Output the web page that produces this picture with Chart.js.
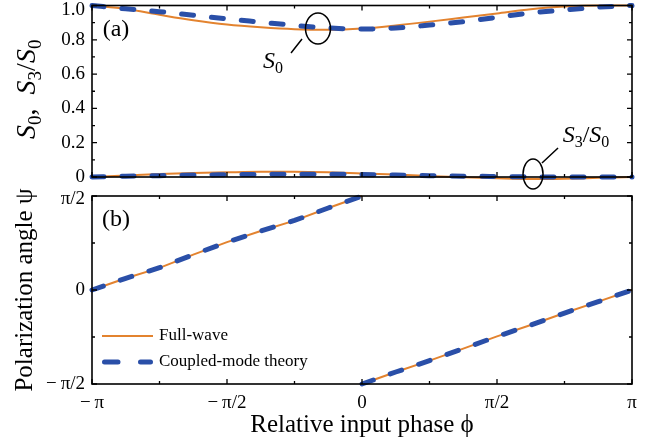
<!DOCTYPE html>
<html><head><meta charset="utf-8">
<script src="https://cdn.jsdelivr.net/npm/chart.js@4.4.1/dist/chart.umd.min.js"></script>
<style>
html,body{margin:0;padding:0;background:#fff;}
#wrap{position:relative;width:662px;height:445px;overflow:hidden;background:#fff;}
canvas{position:absolute;left:0;}
#top{top:0;} #bot{top:185px;}
</style></head><body>
<div id="wrap"><canvas id="top" width="662" height="190"></canvas><canvas id="bot" width="662" height="260"></canvas></div>
<script>
// ---------- data ----------
const phase = [-3.1416,-2.7489,-2.3562,-1.9635,-1.5708,-1.1781,-0.7854,-0.3927,0,0.3927,0.7854,1.1781,1.5708,1.9635,2.3562,2.7489,3.1416];
const s0Full = [1.000,0.980,0.946,0.914,0.889,0.873,0.862,0.859,0.866,0.884,0.906,0.930,0.954,0.978,0.994,1.000,1.000];
const s0Cmt  = [1.000,0.981,0.964,0.943,0.922,0.903,0.884,0.869,0.863,0.869,0.886,0.906,0.931,0.957,0.974,0.990,1.000];
const s3Full = [0.000,0.009,0.017,0.023,0.027,0.030,0.030,0.027,0.021,0.014,0.006,-0.002,-0.008,-0.012,-0.010,-0.005,0.000];
const s3Cmt  = [0.000,0.005,0.008,0.011,0.013,0.015,0.016,0.016,0.014,0.011,0.008,0.005,0.003,0.001,0.000,0.000,0.000];

const psiPhase = [-3.1416,-2.7489,-2.3562,-1.9635,-1.5708,-1.1781,-0.7854,-0.3927,0,0,0,0.3927,0.7854,1.1781,1.5708,1.9635,2.3562,2.7489,3.1416];
const psiFull = [0.000,0.196,0.370,0.590,0.800,0.985,1.160,1.370,1.571,null,-1.571,-1.370,-1.180,-0.980,-0.775,-0.585,-0.385,-0.195,0.000];
const psiCmt  = [0.000,0.196,0.372,0.590,0.800,0.985,1.162,1.370,1.571,null,-1.571,-1.370,-1.180,-0.980,-0.777,-0.585,-0.385,-0.195,0.000];

const xTickValues = [-3.1416,-1.5708,0,1.5708,3.1416];
const xTickLabels = ['\u2212\u2009\u03C0','\u2212\u2009\u03C0/2','0','\u03C0/2','\u03C0'];
const xFrameTicks = [-3.1416,-2.3562,-1.5708,-0.7854,0,0.7854,1.5708,2.3562,3.1416];
const yTopTickValues = [0,0.2,0.4,0.6,0.8,1.0];
const yTopTickLabels = ['0','0.2','0.4','0.6','0.8',['','1.0']];
const yTopFrameTicks = [0,0.1,0.2,0.3,0.4,0.5,0.6,0.7,0.8,0.9,1.0];
const yBotTickValues = [-1.5708,0,1.5708];
const yBotTickLabels = ['\u2212\u2009\u03C0/2','0',['','\u03C0/2']];
const yBotFrameTicks = [-1.5708,-0.7854,0,0.7854,1.5708];

const seriesNames = ['Full-wave','Coupled-mode theory'];
// annotation anchors (data units)
const ellS0 = [-0.512, 0.866], lineS0 = [[-0.698,0.805],[-0.826,0.723]], labS0 = [-1.036, 0.636];
const ellS3 = [1.990, 0.0175], lineS3 = [[2.094,0.082],[2.281,0.169]], labS3 = [2.606, 0.204];

// ---------- style ----------
const FONT = "'Liberation Serif','DejaVu Serif',serif";
const ORANGE = '#e3832f';
const BLUE = '#2a4fa8';
Chart.defaults.font.family = FONT;
Chart.defaults.color = '#000';

const pts = (xs, ys) => xs.map((x, i) => ({x, y: ys[i]}));
const fullStyle = {borderColor: ORANGE, borderWidth: 2, pointRadius: 0, fill: false, clip: false, order: 2};
const cmtStyle = {borderColor: BLUE, borderWidth: 5, borderDash: [12, 18], borderCapStyle: 'round', pointRadius: 0, fill: false, clip: false, order: 1};

function fixAxis(w) {
  return s => { if (w != null) s.width = w; s.paddingTop = 0; s.paddingBottom = 0; s.paddingLeft = 0; s.paddingRight = 0; };
}
function fixX(h) {
  return s => { if (h != null) s.height = h; s.paddingLeft = 0; s.paddingRight = 0; s.paddingTop = 0; s.paddingBottom = 0; };
}

function mathRuns(ctx, runs, size) {
  return runs.map(([t, k]) => {
    const f = k === 's' ? `${Math.round(size * 0.68)}px ${FONT}` : (k === 'i' ? `italic ${size}px ${FONT}` : `${size}px ${FONT}`);
    ctx.font = f;
    return {t, k, f, w: ctx.measureText(t).width};
  });
}
function drawMath(ctx, runs, cx, baseY, size) {
  const items = mathRuns(ctx, runs, size);
  const total = items.reduce((s, it) => s + it.w, 0);
  let x = cx - total / 2;
  ctx.textAlign = 'left'; ctx.textBaseline = 'alphabetic'; ctx.fillStyle = '#000';
  items.forEach(it => { ctx.font = it.f; ctx.fillText(it.t, x, baseY + (it.k === 's' ? size * 0.2 : 0)); x += it.w; });
}

function drawFrame(chart, xt, yt) {
  const {ctx, chartArea: a, scales: {x, y}} = chart;
  ctx.save();
  ctx.strokeStyle = '#000';
  ctx.lineWidth = 1.6;
  ctx.strokeRect(a.left, a.top, a.right - a.left, a.bottom - a.top);
  ctx.lineWidth = 1.3;
  ctx.beginPath();
  xt.forEach((v, i) => {
    const px = x.getPixelForValue(v), len = i % 2 === 0 ? 5 : 3;
    ctx.moveTo(px, a.bottom); ctx.lineTo(px, a.bottom - len);
    ctx.moveTo(px, a.top); ctx.lineTo(px, a.top + len);
  });
  yt.forEach((v, i) => {
    const py = y.getPixelForValue(v), len = i % 2 === 0 ? 5 : 3;
    ctx.moveTo(a.left, py); ctx.lineTo(a.left + len, py);
    ctx.moveTo(a.right, py); ctx.lineTo(a.right - len, py);
  });
  ctx.stroke();
  ctx.restore();
}

const topPlugin = {
  id: 'topDeco',
  afterDatasetsDraw(chart) {
    const {ctx, chartArea: a, scales: {x, y}} = chart;
    drawFrame(chart, xFrameTicks, yTopFrameTicks);
    ctx.save();
    ctx.font = `24px ${FONT}`; ctx.fillStyle = '#000'; ctx.textAlign = 'center'; ctx.textBaseline = 'middle';
    ctx.fillText('(a)', a.left + 24, a.top + 24);
    ctx.strokeStyle = '#000'; ctx.lineWidth = 1.5;
    ctx.beginPath(); ctx.ellipse(x.getPixelForValue(ellS0[0]), y.getPixelForValue(ellS0[1]), 12.5, 15.5, 0, 0, 2 * Math.PI); ctx.stroke();
    ctx.beginPath(); ctx.ellipse(x.getPixelForValue(ellS3[0]), y.getPixelForValue(ellS3[1]), 10, 15, 0, 0, 2 * Math.PI); ctx.stroke();
    ctx.beginPath();
    ctx.moveTo(x.getPixelForValue(lineS0[0][0]), y.getPixelForValue(lineS0[0][1]));
    ctx.lineTo(x.getPixelForValue(lineS0[1][0]), y.getPixelForValue(lineS0[1][1]));
    ctx.moveTo(x.getPixelForValue(lineS3[0][0]), y.getPixelForValue(lineS3[0][1]));
    ctx.lineTo(x.getPixelForValue(lineS3[1][0]), y.getPixelForValue(lineS3[1][1]));
    ctx.stroke();
    drawMath(ctx, [['S','i'],['0','s']], x.getPixelForValue(labS0[0]), y.getPixelForValue(labS0[1]), 24);
    drawMath(ctx, [['S','i'],['3','s'],['/','r'],['S','i'],['0','s']], x.getPixelForValue(labS3[0]), y.getPixelForValue(labS3[1]), 24);
    ctx.translate(26, (a.top + a.bottom) / 2 - 2);
    ctx.rotate(-Math.PI / 2);
    drawMath(ctx, [['S','i'],['0','s'],[',\u2002','r'],['S','i'],['3','s'],['/','r'],['S','i'],['0','s']], 0, 28 * 0.33, 28);
    ctx.restore();
  }
};

const botPlugin = {
  id: 'botDeco',
  afterDatasetsDraw(chart) {
    const {ctx, chartArea: a} = chart;
    drawFrame(chart, xFrameTicks, yBotFrameTicks);
    ctx.save();
    ctx.font = `24px ${FONT}`; ctx.fillStyle = '#000'; ctx.textAlign = 'center'; ctx.textBaseline = 'middle';
    ctx.fillText('(b)', a.left + 24, a.top + 24);
    // legend
    const ds = chart.data.datasets;
    const rows = [a.bottom - 48, a.bottom - 22];
    ds.forEach((d, i) => {
      ctx.save();
      ctx.strokeStyle = d.borderColor; ctx.lineWidth = d.borderWidth;
      ctx.lineCap = d.borderCapStyle || 'butt';
      ctx.setLineDash([]);
      ctx.beginPath();
      if (d.borderDash) {
        ctx.moveTo(a.left + 12.5, rows[i]); ctx.lineTo(a.left + 26, rows[i]);
        ctx.moveTo(a.left + 48.5, rows[i]); ctx.lineTo(a.left + 58.5, rows[i]);
      } else { ctx.moveTo(a.left + 10, rows[i]); ctx.lineTo(a.left + 61, rows[i]); }
      ctx.stroke();
      ctx.restore();
      ctx.font = `17px ${FONT}`; ctx.textAlign = 'left'; ctx.textBaseline = 'middle'; ctx.fillStyle = '#000';
      ctx.fillText(d.label, a.left + 67, rows[i]);
    });
    ctx.restore();
  }
};

new Chart(document.getElementById('top'), {
  type: 'line',
  data: {
    datasets: [
      Object.assign({label: 'S0 ' + seriesNames[0], data: pts(phase, s0Full), cubicInterpolationMode: 'monotone'}, fullStyle),
      Object.assign({label: 'S0 ' + seriesNames[1], data: pts(phase, s0Cmt), cubicInterpolationMode: 'monotone'}, cmtStyle),
      Object.assign({label: 'S3/S0 ' + seriesNames[0], data: pts(phase, s3Full), cubicInterpolationMode: 'monotone'}, fullStyle),
      Object.assign({label: 'S3/S0 ' + seriesNames[1], data: pts(phase, s3Cmt), cubicInterpolationMode: 'monotone'}, cmtStyle)
    ]
  },
  options: {
    responsive: false, animation: false, devicePixelRatio: 1, events: [],
    layout: {padding: {left: 0, right: 30, top: 5.5, bottom: 13}},
    plugins: {legend: {display: false}, tooltip: {enabled: false}},
    scales: {
      x: {type: 'linear', min: -3.1416, max: 3.1416, display: false, afterFit: fixX(0)},
      y: {
        type: 'linear', min: 0, max: 1, position: 'left',
        grid: {display: false, drawTicks: false}, border: {display: false},
        afterBuildTicks: s => { s.ticks = yTopTickValues.map(v => ({value: v})); },
        ticks: {font: {family: FONT, size: 19, lineHeight: 0.45}, padding: 7, color: '#000', callback: (v, i) => yTopTickLabels[i]},
        afterFit: fixAxis(92)
      }
    }
  },
  plugins: [topPlugin]
});

new Chart(document.getElementById('bot'), {
  type: 'line',
  data: {
    datasets: [
      Object.assign({label: seriesNames[0], data: pts(psiPhase, psiFull), spanGaps: false, tension: 0}, fullStyle),
      Object.assign({label: seriesNames[1], data: pts(psiPhase, psiCmt), spanGaps: false, tension: 0}, cmtStyle)
    ]
  },
  options: {
    responsive: false, animation: false, devicePixelRatio: 1, events: [],
    layout: {padding: {left: 0, right: 30, top: 11, bottom: 0}},
    plugins: {legend: {display: false}, tooltip: {enabled: false}},
    scales: {
      x: {
        type: 'linear', min: -3.1416, max: 3.1416, position: 'bottom',
        grid: {display: false, drawTicks: false}, border: {display: false},
        afterBuildTicks: s => { s.ticks = xTickValues.map(v => ({value: v})); },
        ticks: {font: {family: FONT, size: 19}, padding: 8, color: '#000', autoSkip: false, maxRotation: 0, callback: (v, i) => xTickLabels[i]},
        title: {display: true, text: 'Relative input phase \u03D5', font: {family: FONT, size: 25}, color: '#000', padding: {top: 0, bottom: 5}},
        afterFit: fixX(61)
      },
      y: {
        type: 'linear', min: -1.5708, max: 1.5708, position: 'left',
        grid: {display: false, drawTicks: false}, border: {display: false},
        afterBuildTicks: s => { s.ticks = yBotTickValues.map(v => ({value: v})); },
        ticks: {font: {family: FONT, size: 19, lineHeight: 0.35}, padding: 7, color: '#000', callback: (v, i) => yBotTickLabels[i]},
        title: {display: true, text: 'Polarization angle \u03C8', font: {family: FONT, size: 25}, color: '#000', padding: {top: 10, bottom: 0}},
        afterFit: fixAxis(92)
      }
    }
  },
  plugins: [botPlugin]
});
</script>
</body></html>
